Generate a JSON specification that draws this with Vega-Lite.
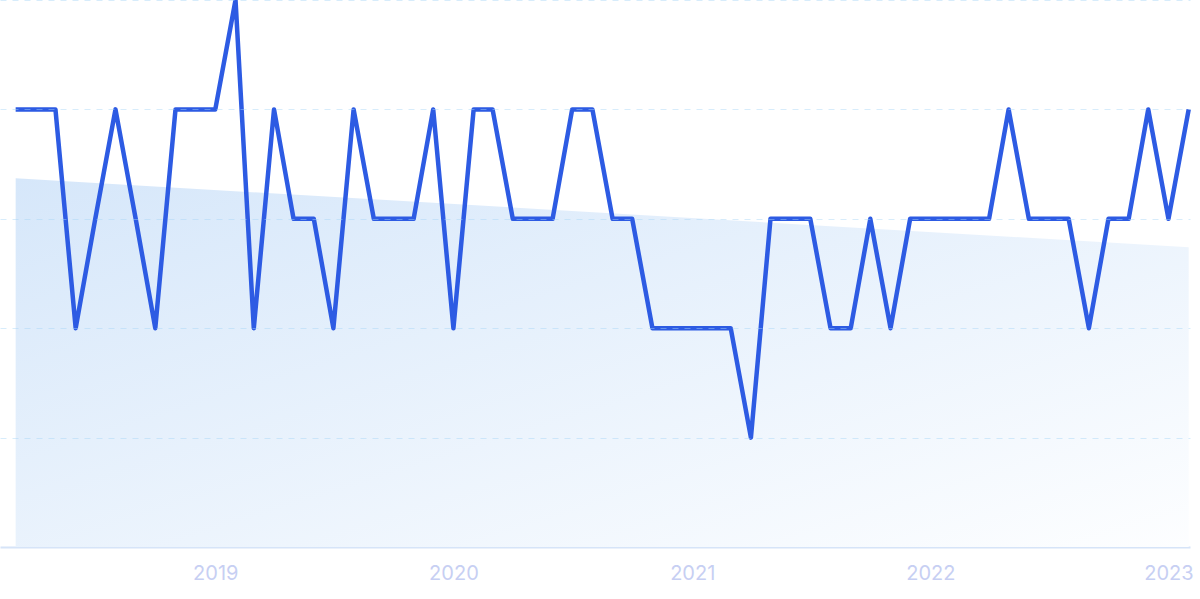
{
  "$schema": "https://vega.github.io/schema/vega-lite/v6.json",
  "width": 1190,
  "height": 547,
  "autosize": {"type": "none"},
  "padding": {"left": 0, "top": 0, "right": 10, "bottom": 52},
  "background": "#ffffff",
  "config": {"view": {"stroke": null}, "font": "Inter"},
  "datasets": {
    "series": [
      {"date": "2018-03-01", "value": 4}, {"date": "2018-04-01", "value": 4}, {"date": "2018-05-01", "value": 4},
      {"date": "2018-06-01", "value": 2}, {"date": "2018-07-01", "value": 3}, {"date": "2018-08-01", "value": 4},
      {"date": "2018-09-01", "value": 3}, {"date": "2018-10-01", "value": 2}, {"date": "2018-11-01", "value": 4},
      {"date": "2018-12-01", "value": 4}, {"date": "2019-01-01", "value": 4}, {"date": "2019-02-01", "value": 5},
      {"date": "2019-03-01", "value": 2}, {"date": "2019-04-01", "value": 4}, {"date": "2019-05-01", "value": 3},
      {"date": "2019-06-01", "value": 3}, {"date": "2019-07-01", "value": 2}, {"date": "2019-08-01", "value": 4},
      {"date": "2019-09-01", "value": 3}, {"date": "2019-10-01", "value": 3}, {"date": "2019-11-01", "value": 3},
      {"date": "2019-12-01", "value": 4}, {"date": "2020-01-01", "value": 2}, {"date": "2020-02-01", "value": 4},
      {"date": "2020-03-01", "value": 4}, {"date": "2020-04-01", "value": 3}, {"date": "2020-05-01", "value": 3},
      {"date": "2020-06-01", "value": 3}, {"date": "2020-07-01", "value": 4}, {"date": "2020-08-01", "value": 4},
      {"date": "2020-09-01", "value": 3}, {"date": "2020-10-01", "value": 3}, {"date": "2020-11-01", "value": 2},
      {"date": "2020-12-01", "value": 2}, {"date": "2021-01-01", "value": 2}, {"date": "2021-02-01", "value": 2},
      {"date": "2021-03-01", "value": 2}, {"date": "2021-04-01", "value": 1}, {"date": "2021-05-01", "value": 3},
      {"date": "2021-06-01", "value": 3}, {"date": "2021-07-01", "value": 3}, {"date": "2021-08-01", "value": 2},
      {"date": "2021-09-01", "value": 2}, {"date": "2021-10-01", "value": 3}, {"date": "2021-11-01", "value": 2},
      {"date": "2021-12-01", "value": 3}, {"date": "2022-01-01", "value": 3}, {"date": "2022-02-01", "value": 3},
      {"date": "2022-03-01", "value": 3}, {"date": "2022-04-01", "value": 3}, {"date": "2022-05-01", "value": 4},
      {"date": "2022-06-01", "value": 3}, {"date": "2022-07-01", "value": 3}, {"date": "2022-08-01", "value": 3},
      {"date": "2022-09-01", "value": 2}, {"date": "2022-10-01", "value": 3}, {"date": "2022-11-01", "value": 3},
      {"date": "2022-12-01", "value": 4}, {"date": "2023-01-01", "value": 3}, {"date": "2023-02-01", "value": 4}
    ],
    "trend": [
      {"date": "2018-03-01", "trend": 3.37},
      {"date": "2023-02-01", "trend": 2.74}
    ]
  },
  "layer": [
    {
      "data": {"name": "trend"},
      "mark": {
        "type": "area",
        "fill": {
          "gradient": "linear",
          "x1": 0, "y1": 0, "x2": 1, "y2": 1,
          "stops": [
            {"offset": 0, "color": "#d6e7fa"},
            {"offset": 1, "color": "#fdfeff"}
          ]
        }
      },
      "encoding": {
        "x": {"field": "date", "type": "temporal"},
        "y": {"field": "trend", "type": "quantitative"},
        "y2": {"datum": 0}
      }
    },
    {
      "data": {"name": "series"},
      "mark": {"type": "line", "color": "#2d5be3", "strokeWidth": 4.5, "strokeJoin": "round", "strokeCap": "butt"},
      "encoding": {
        "x": {
          "field": "date",
          "type": "temporal",
          "scale": {"domain": ["2018-02-05", "2023-02-03"]},
          "axis": {
            "title": null,
            "format": "%Y",
            "tickCount": {"interval": "year", "step": 1},
            "grid": false,
            "ticks": false,
            "domain": true,
            "domainColor": "#d6e4f8",
            "domainWidth": 2,
            "labelColor": "#c7cff3",
            "labelFontSize": 20,
            "labelPadding": 16,
            "labelFont": "Inter"
          }
        },
        "y": {
          "field": "value",
          "type": "quantitative",
          "scale": {"domain": [0, 5], "nice": false},
          "axis": {
            "title": null,
            "labels": false,
            "ticks": false,
            "domain": false,
            "values": [1, 2, 3, 4, 5],
            "grid": true,
            "gridColor": "#a6d4f6",
            "gridOpacity": 0.45,
            "gridDash": [6, 6],
            "gridWidth": 1,
            "zindex": 1
          }
        }
      }
    }
  ]
}
